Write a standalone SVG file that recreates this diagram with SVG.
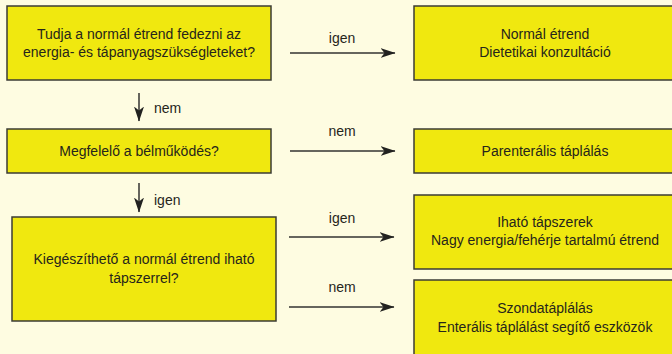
<svg xmlns="http://www.w3.org/2000/svg" width="672" height="354" viewBox="0 0 672 354">
<defs>
<style>
.box{fill:#F0E80F;stroke:#3b3b35;stroke-width:1.5}
.t{font-family:"Liberation Sans Narrow","Liberation Sans",Arial,sans-serif;font-size:14px;fill:#26251b;text-anchor:middle}
.lbl{font-family:"Liberation Sans Narrow","Liberation Sans",Arial,sans-serif;font-size:14px;fill:#26251b}
.c{stroke:#333330;stroke-width:1.5;fill:none}
</style>
<marker id="ah" viewBox="0 0 15 10" refX="14.5" refY="5" markerWidth="15" markerHeight="10" markerUnits="userSpaceOnUse" orient="auto">
<path d="M0,0 L15,5 L0,10 L4,5 Z" fill="#222220"/>
</marker>
</defs>
<rect width="672" height="354" fill="#FEFCE1"/>
<g id="n1"><rect class="box" x="7" y="6" width="264" height="74"/>
<text class="t" x="139" y="39">Tudja a normál étrend fedezni az</text>
<text class="t" x="139" y="57">energia- és tápanyagszükségleteket?</text></g>
<g id="n2"><rect class="box" x="414" y="6" width="264" height="74"/>
<text class="t" x="545" y="39">Normál étrend</text>
<text class="t" x="545" y="57">Dietetikai konzultáció</text></g>
<g id="n3"><rect class="box" x="7" y="129" width="264" height="44"/>
<text class="t" x="139" y="156">Megfelelő a bélműködés?</text></g>
<g id="n4"><rect class="box" x="414" y="129" width="264" height="44"/>
<text class="t" x="545" y="156">Parenterális táplálás</text></g>
<g id="n5"><rect class="box" x="12" y="217" width="264" height="104"/>
<text class="t" x="144" y="264">Kiegészíthető a normál étrend iható</text>
<text class="t" x="144" y="283">tápszerrel?</text></g>
<g id="n6"><rect class="box" x="414" y="195" width="264" height="74"/>
<text class="t" x="545" y="227">Iható tápszerek</text>
<text class="t" x="545" y="245">Nagy energia/fehérje tartalmú étrend</text></g>
<g id="n7"><rect class="box" x="414" y="280" width="264" height="80"/>
<text class="t" x="545" y="313">Szondatáplálás</text>
<text class="t" x="545" y="332">Enterális táplálást segítő eszközök</text></g>
<g id="connectors">
<line class="c" x1="290" y1="53" x2="395" y2="53" marker-end="url(#ah)"/>
<line class="c" x1="139" y1="93" x2="139" y2="121" marker-end="url(#ah)"/>
<line class="c" x1="290" y1="151" x2="395" y2="151" marker-end="url(#ah)"/>
<line class="c" x1="139" y1="183" x2="139" y2="212" marker-end="url(#ah)"/>
<line class="c" x1="289" y1="237" x2="394" y2="237" marker-end="url(#ah)"/>
<line class="c" x1="289" y1="307" x2="394" y2="307" marker-end="url(#ah)"/>
<text class="t" x="342" y="43">igen</text>
<text class="lbl" x="154" y="113">nem</text>
<text class="t" x="342" y="136">nem</text>
<text class="lbl" x="154" y="205">igen</text>
<text class="t" x="342" y="223">igen</text>
<text class="t" x="342" y="292">nem</text>
</g>
</svg>
